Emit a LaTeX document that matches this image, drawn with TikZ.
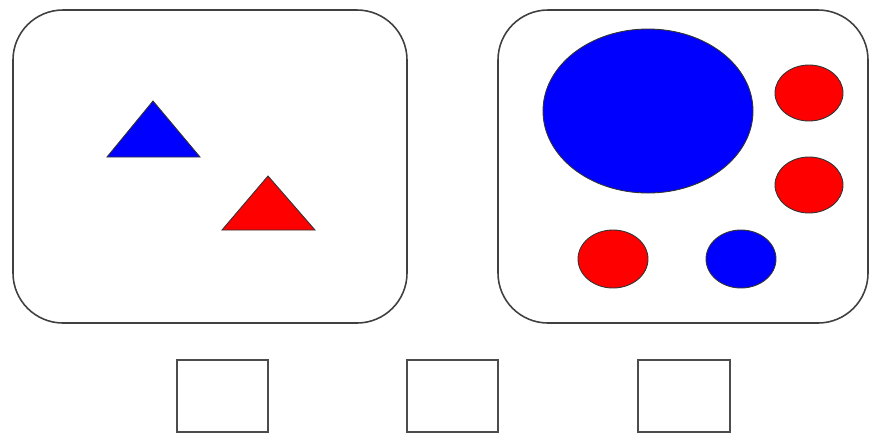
\documentclass[tikz,border=0pt]{standalone}
\begin{document}
\begin{tikzpicture}[x=0.02cm,y=-0.02cm,
    panel/.style={draw=black!75,line width=0.9pt,rounded corners=1cm},
    answerbox/.style={draw=black!70,line width=1.1pt},
    shapeblue/.style={draw=black!80,fill=blue,line width=0.5pt},
    shapered/.style={draw=black!80,fill=red,line width=0.5pt}]
    \useasboundingbox (0,0) rectangle (878,434);

    % Left panel
    \draw[panel] (13,10) rectangle (407,323);
    \draw[shapeblue] (153,101) -- (107,157) -- (200,157) -- cycle;
    \draw[shapered] (268,176) -- (222,230) -- (315,230) -- cycle;

    % Right panel
    \draw[panel] (498,10) rectangle (868,323);
    \draw[shapeblue] (648,111) ellipse [x radius=105,y radius=82];
    \draw[shapered] (809,93) ellipse [x radius=34,y radius=28];
    \draw[shapered] (809,185) ellipse [x radius=34,y radius=28];
    \draw[shapered] (613,259) ellipse [x radius=35,y radius=29];
    \draw[shapeblue] (741,259) ellipse [x radius=35,y radius=29];

    % Answer boxes
    \draw[answerbox] (177,360) rectangle (268,432);
    \draw[answerbox] (407,360) rectangle (498,432);
    \draw[answerbox] (638,360) rectangle (730,432);
\end{tikzpicture}
\end{document}
